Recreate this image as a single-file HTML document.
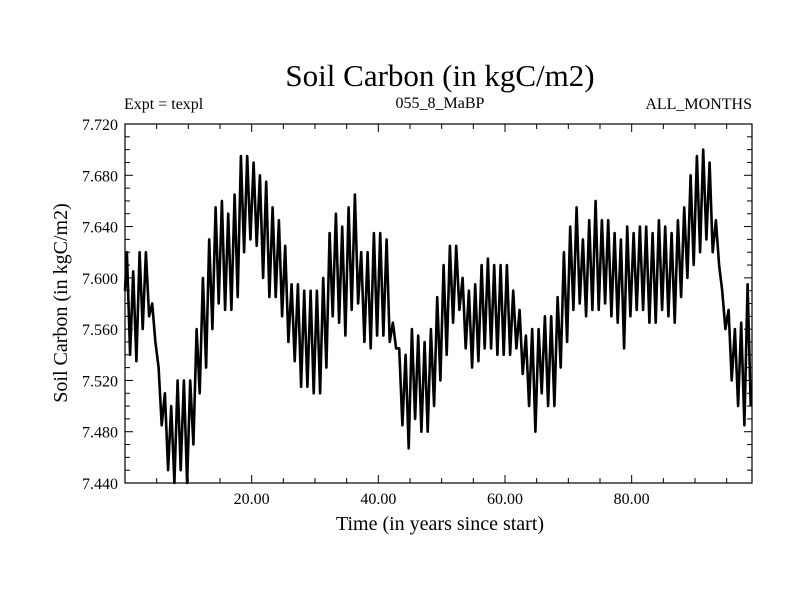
<!DOCTYPE html>
<html><head><meta charset="utf-8"><style>
body{margin:0;background:#fff;}
svg{display:block;font-family:"Liberation Serif",serif;}
</style></head><body>
<svg id="chart" width="800" height="600">
<text x="440" y="86" font-size="31" text-anchor="middle">Soil Carbon (in kgC/m2)</text>
<text x="124" y="109" font-size="16">Expt = texpl</text>
<text x="440" y="108" font-size="16" text-anchor="middle">055_8_MaBP</text>
<text x="752" y="109" font-size="16" text-anchor="end">ALL_MONTHS</text>
<text x="440" y="530" font-size="20" text-anchor="middle">Time (in years since start)</text>
<text transform="translate(67,303) rotate(-90)" font-size="20" text-anchor="middle">Soil Carbon (in kgC/m2)</text>
<g id="ticks"></g>
<path id="series" fill="none" stroke="#000" stroke-width="2.6" stroke-linejoin="round"></path>
<rect x="125" y="124" width="627" height="359" fill="none" stroke="#000" stroke-width="1.2"></rect>
</svg>
<script>
const yearHighs=[7.62,7.605,7.62,7.62,7.58,7.53,7.51,7.50,7.52,7.52,7.52,7.56,7.60,7.63,7.655,7.66,7.65,7.665,7.695,7.695,7.69,7.68,7.675,7.655,7.645,7.625,7.595,7.595,7.59,7.59,7.59,7.60,7.635,7.65,7.64,7.655,7.665,7.62,7.62,7.635,7.635,7.63,7.565,7.545,7.54,7.56,7.555,7.55,7.56,7.585,7.61,7.625,7.625,7.60,7.59,7.595,7.61,7.615,7.61,7.61,7.61,7.59,7.575,7.555,7.56,7.56,7.57,7.57,7.585,7.62,7.64,7.655,7.63,7.645,7.66,7.645,7.645,7.635,7.63,7.64,7.635,7.64,7.64,7.635,7.645,7.64,7.635,7.645,7.655,7.68,7.695,7.70,7.69,7.645,7.59,7.575,7.56,7.565,7.595];
const yearLows=[7.54,7.535,7.56,7.57,7.55,7.485,7.45,7.44,7.45,7.44,7.47,7.51,7.53,7.56,7.58,7.575,7.575,7.585,7.62,7.63,7.625,7.60,7.585,7.585,7.57,7.55,7.535,7.515,7.515,7.51,7.51,7.53,7.57,7.565,7.555,7.575,7.58,7.55,7.545,7.555,7.555,7.55,7.545,7.485,7.467,7.49,7.48,7.48,7.50,7.52,7.54,7.565,7.575,7.545,7.53,7.535,7.545,7.545,7.54,7.54,7.54,7.545,7.525,7.50,7.48,7.51,7.50,7.50,7.53,7.55,7.575,7.58,7.57,7.575,7.575,7.58,7.57,7.565,7.545,7.57,7.575,7.575,7.565,7.565,7.575,7.57,7.565,7.585,7.60,7.61,7.62,7.63,7.62,7.61,7.56,7.52,7.50,7.485,7.50];
const xTickValues=[20,40,60,80];
const xTickLabels=["20.00","40.00","60.00","80.00"];
const yTickValues=[7.44,7.48,7.52,7.56,7.60,7.64,7.68,7.72];
const yTickLabels=["7.440","7.480","7.520","7.560","7.600","7.640","7.680","7.720"];
const L=125,R=752,T=124,B=483,X0=0,X1=99,Y0=7.44,Y1=7.72;
const sx=v=>L+(v-X0)/(X1-X0)*(R-L);
const sy=v=>B-(v-Y0)/(Y1-Y0)*(B-T);
const NS="http://www.w3.org/2000/svg";
const svg=document.getElementById('chart');
const tg=document.getElementById('ticks');
function line(x1,y1,x2,y2,name){const l=document.createElementNS(NS,'line');
l.setAttribute('x1',x1);l.setAttribute('y1',y1);l.setAttribute('x2',x2);l.setAttribute('y2',y2);
l.setAttribute('stroke','#000');l.setAttribute('stroke-width','1');


tg.appendChild(l);}
function text(x,y,s,anchor,name){const t=document.createElementNS(NS,'text');
t.setAttribute('x',x);t.setAttribute('y',y);t.setAttribute('font-size','16');t.setAttribute('text-anchor',anchor);t.textContent=s;


svg.appendChild(t);}
for(let v=5;v<X1;v+=5){const x=sx(v);const maj=v%20===0;const len=maj?8:5;
line(x,B,x,B-len,'x-tick');line(x,T,x,T+len,'x-tick-top');}
for(let i=0;i<=28;i++){const v=Y0+i*0.01;const y=sy(v);const maj=i%4===0;const len=maj?8:5;
line(L,y,L+len,y,'y-tick');line(R,y,R-len,y,'y-tick-right');}
xTickValues.forEach((v,i)=>text(sx(v),504,xTickLabels[i],'middle','x-tick-label'));
yTickValues.forEach((v,i)=>text(118,sy(v)+6,yTickLabels[i],'end','y-tick-label'));
let d='M'+sx(0)+','+sy(7.59);
for(let k=0;k<yearHighs.length;k++){
  const xh=Math.min(k+0.3,X1), xl=Math.min(k+0.8,X1);
  d+=' L'+sx(xh).toFixed(1)+','+sy(yearHighs[k]).toFixed(1);
  d+=' L'+sx(xl).toFixed(1)+','+sy(yearLows[k]).toFixed(1);
}
document.getElementById('series').setAttribute('d',d);
</script>
</body></html>
